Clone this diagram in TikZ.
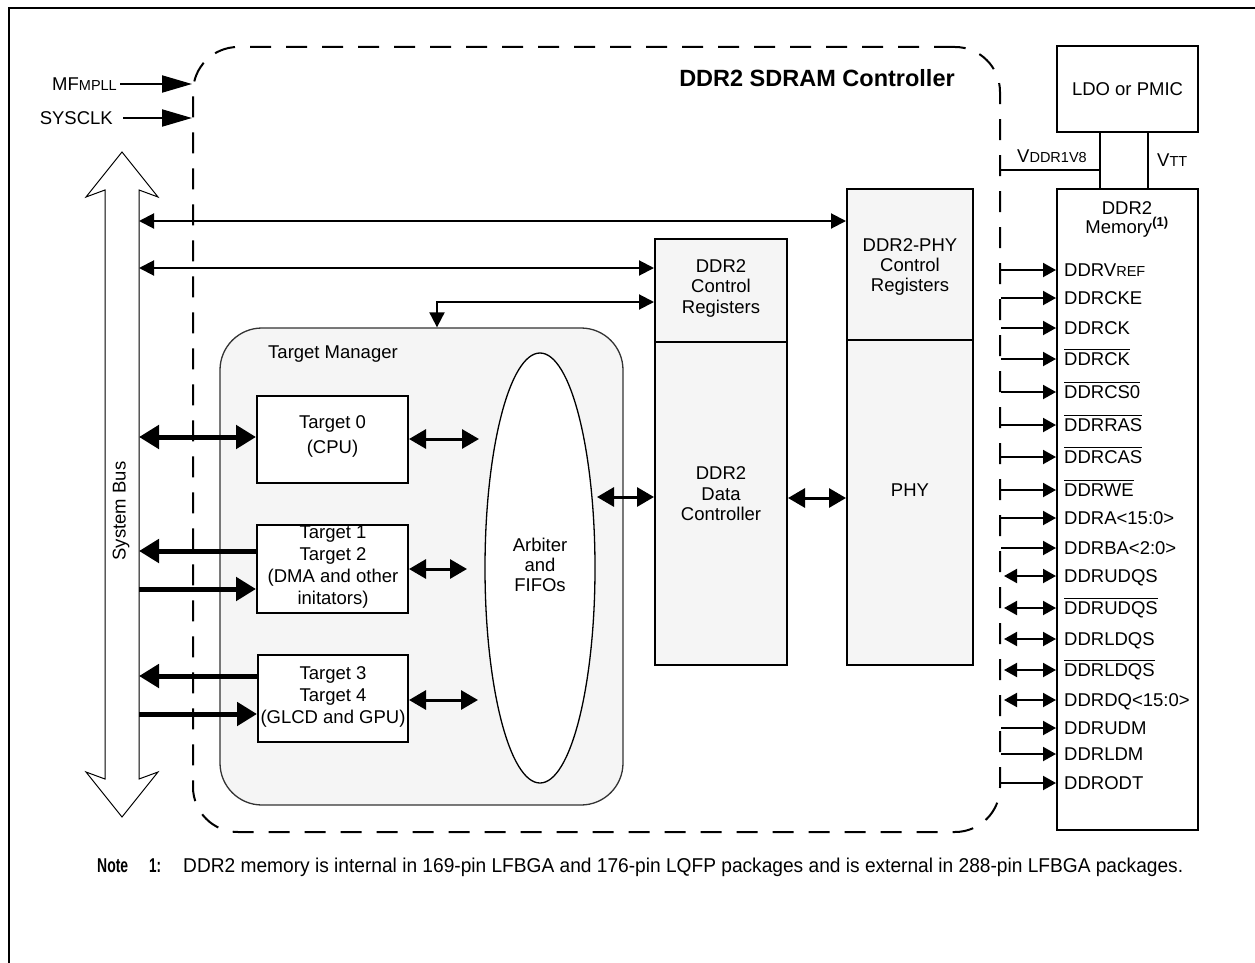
\documentclass[tikz,border=0pt]{standalone}
\usepackage{fontspec}
\setmainfont{Liberation Sans}
\usetikzlibrary{arrows.meta,calc,shapes.geometric}
\definecolor{panel}{HTML}{F5F5F5}
\definecolor{tmline}{HTML}{333333}
\newcommand\lowtxt[1]{{\fontsize{14.5}{16}\selectfont #1}}
\newcommand\ovl[1]{\vbox{\hrule height 1.4pt\kern 2.6pt\hbox{#1}}}
\begin{document}
\begin{tikzpicture}[x=1pt,y=-1pt,
  font=\fontsize{18.5}{22}\selectfont,
  every node/.style={inner sep=0pt},
  blk/.style={draw,line width=2pt,fill=panel},
  wblk/.style={draw,line width=2pt,fill=white},
  bigarr/.style={line width=2pt,-{Triangle[length=30pt,width=17pt]}},
  pinarr/.style={line width=2pt,-{Triangle[length=13pt,width=14pt]}},
  pinbi/.style={line width=2pt,{Triangle[length=13pt,width=14pt]}-{Triangle[length=13pt,width=14pt]}},
  regarr/.style={line width=2pt,{Triangle[length=15pt,width=15pt]}-{Triangle[length=15pt,width=15pt]}},
  midbi/.style={line width=3pt,{Triangle[length=17pt,width=19pt]}-{Triangle[length=17pt,width=19pt]}},
  thickbi/.style={line width=5pt,{Triangle[length=20pt,width=23pt]}-{Triangle[length=20pt,width=23pt]}},
  thickarr/.style={line width=5pt,-{Triangle[length=20pt,width=23pt]}},
  wire/.style={line width=2pt},
]
\useasboundingbox (0,0) rectangle (1255,963);
% outer frame (cropped)
\draw[line width=2pt] (9,964) -- (9,8) -- (1256,8);

% controller dashed outline
\node[draw,line width=2pt,dash pattern=on 21pt off 15pt,rounded corners=45pt,
      minimum width=807pt,minimum height=785pt] (ctrl) at (596.5,439.5) {};
\node[font=\bfseries\fontsize{23.5}{26}\selectfont] (title) at (817,78) {DDR2 SDRAM Controller};

% clock inputs
\node[anchor=east] (mf) at (117,84) {MF\lowtxt{MPLL}};
\node[anchor=east] (sys) at (113,118) {SYSCLK};
\draw[bigarr] ($(mf.east)+(3,0)$) -- (mf.east -| ctrl.west);
\draw[bigarr] ($(sys.east)+(10,0)$) -- (sys.east -| ctrl.west);

% system bus
\draw[line width=1pt,fill=white] (122,152) -- (158,197) -- (139,190) -- (139,779) -- (158,772)
  -- (122,817) -- (86,772) -- (105,779) -- (105,190) -- (86,197) -- cycle;
\node[rotate=90] (buslbl) at (121,511) {System Bus};

% target manager
\node[draw=tmline,line width=1.3pt,fill=panel,rounded corners=42pt,
      minimum width=403pt,minimum height=477pt] (tm) at (421.5,566.5) {};
\node[anchor=base west] (tmlbl) at (268,358.5) {Target Manager};

\node[wblk,minimum width=151pt,minimum height=87pt] (t0) at (332.5,439.5) {};
\node[align=center,font=\fontsize{18.5}{25}\selectfont] (t0txt) at (332.5,436) {Target 0\\(CPU)};
\node[wblk,minimum width=151pt,minimum height=88pt] (t12) at (332.5,569) {};
\node[align=center,font=\fontsize{18.5}{22}\selectfont] (t12txt) at (333,567) {Target 1\\Target 2\\(DMA and other\\initators)};
\node[wblk,minimum width=150pt,minimum height=87pt] (t34) at (333,698.5) {};
\node[align=center,font=\fontsize{18.5}{22}\selectfont] (t34txt) at (333,697) {Target 3\\Target 4\\(GLCD and GPU)};

\node[draw,line width=1.3pt,fill=white,ellipse,minimum width=110pt,minimum height=430pt] (arb) at (540,568) {};
\node[align=center,font=\fontsize{18.5}{20}\selectfont] (arbtxt) at (540,565) {Arbiter\\and\\FIFOs};

% DDR2 controller blocks
\node[blk,minimum width=132pt,minimum height=103pt] (creg) at (721,290.5) {};
\node[blk,minimum width=132pt,minimum height=323pt] (dctl) at (721,503.5) {};
\node[align=center,font=\fontsize{18.5}{20.5}\selectfont] (cregtxt) at (721,288) {DDR2\\Control\\Registers};
\node[align=center,font=\fontsize{18.5}{20.5}\selectfont] (dctltxt) at (721,494) {DDR2\\Data\\Controller};

\node[blk,minimum width=126pt,minimum height=151pt] (preg) at (910,264.5) {};
\node[blk,minimum width=126pt,minimum height=325pt] (phy) at (910,502.5) {};
\node[align=center,font=\fontsize{18.5}{20}\selectfont] (pregtxt) at (910,267) {DDR2-PHY\\Control\\Registers};
\node (phytxt) at (910,490) {PHY};

% LDO and memory
\node[draw,line width=2pt,fill=white,minimum width=141pt,minimum height=86pt] (ldo) at (1127.5,89) {LDO or PMIC};
\node[draw,line width=2pt,minimum width=141pt,minimum height=641pt] (mem) at (1127.5,509.5) {};
\node[align=center,font=\fontsize{18.5}{19}\selectfont] (memtxt) at (1127,219) {DDR2\\Memory\textsuperscript{\textbf{(1)}}};

\coordinate (vdd) at (1100,170);
\coordinate (vddL) at (1001,170);
\draw[wire] (vdd |- ldo.south) -- (vdd |- mem.north);
\draw[wire] (vdd) -- (vddL);
\node[anchor=base west] (vddlbl) at (1017,162) {V\lowtxt{DDR1V8}};
\coordinate (vtt) at (1148,160);
\draw[wire] (vtt |- ldo.south) -- (vtt |- mem.north);
\node[anchor=base west] (vttlbl) at (1157,166) {V\lowtxt{TT}};

% system bus connections
\coordinate (a1) at (139,221); \draw[regarr] (a1) -- (a1 -| preg.west);
\coordinate (a2) at (139,268); \draw[regarr] (a2) -- (a2 -| creg.west);
\coordinate (a3) at (437,302); \draw[regarr] (a3 -| creg.west) -- (a3) -- (a3 |- tm.north);

\coordinate (b0) at (139,437); \draw[thickbi] (b0) -- (b0 -| t0.west);
\coordinate (b1) at (139,551); \draw[thickarr] (b1 -| t12.west) -- (b1);
\coordinate (b2) at (139,589); \draw[thickarr] (b2) -- (b2 -| t12.west);
\coordinate (b3) at (139,676); \draw[thickarr] (b3 -| t34.west) -- (b3);
\coordinate (b4) at (139,714); \draw[thickarr] (b4) -- (b4 -| t34.west);

\coordinate (c0) at (479,439); \draw[midbi] (c0 -| t0.east) -- (c0);
\coordinate (c1) at (467,569); \draw[midbi] (c1 -| t12.east) -- (c1);
\coordinate (c2) at (478,700); \draw[midbi] (c2 -| t34.east) -- (c2);
\coordinate (d0) at (597,497); \draw[midbi] (d0) -- (d0 -| dctl.west);
\coordinate (d1) at (810,498); \draw[midbi] (d1 -| dctl.east) -- (d1 -| phy.west);

% memory pins
\foreach \yy/\lab in {270/DDRV\lowtxt{REF},298/DDRCKE,328/DDRCK,359/\ovl{DDRCK},392/\ovl{DDRCS0},
  425/\ovl{DDRRAS},457/\ovl{DDRCAS},490/\ovl{DDRWE},518/DDRA<15:0>,548/DDRBA<2:0>,
  728/DDRUDM,754/DDRLDM,783/DDRODT}{
  \coordinate (p\yy) at (1001,\yy);
  \draw[pinarr] (p\yy) -- (p\yy -| mem.west);
  \node[anchor=base west] (pl\yy) at (1064,\yy+6.5) {\lab};
}
\foreach \yy/\lab in {576/DDRUDQS,608/\ovl{DDRUDQS},639/DDRLDQS,670/\ovl{DDRLDQS},700/DDRDQ<15:0>}{
  \coordinate (p\yy) at (1004,\yy);
  \draw[pinbi] (p\yy) -- (p\yy -| mem.west);
  \node[anchor=base west] (pl\yy) at (1064,\yy+6.5) {\lab};
}

% note
\node[anchor=base west,font=\bfseries\fontsize{20}{22}\selectfont] (note) at (97,872) {\resizebox{31pt}{\height}{Note}};
\node[anchor=base west,font=\bfseries\fontsize{20}{22}\selectfont] (noten) at (149,872) {\resizebox{12pt}{\height}{1:}};
\node[anchor=base west,font=\fontsize{20}{22}\selectfont] (notetxt) at (183,872) {\resizebox{1000pt}{\height}{DDR2 memory is internal in 169-pin LFBGA and 176-pin LQFP packages and is external in 288-pin LFBGA packages.}};
\end{tikzpicture}
\end{document}
